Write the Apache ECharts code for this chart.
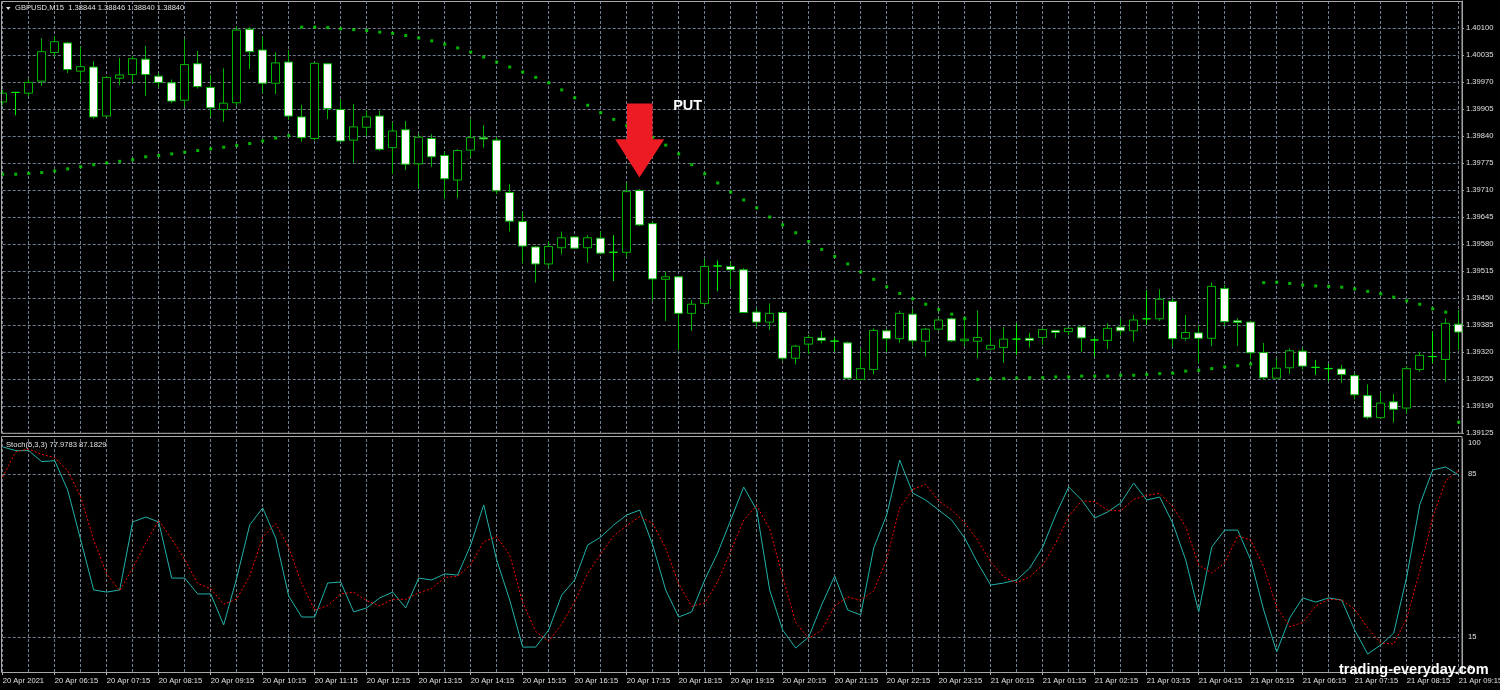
<!DOCTYPE html>
<html><head><meta charset="utf-8">
<script src="https://cdn.jsdelivr.net/npm/echarts@6/dist/echarts.min.js"></script>
<style>html,body{margin:0;padding:0;background:#000;}#c{width:1500px;height:690px;}</style>
</head><body><div id="c"></div>
<script>
const categories = [
'20 Apr 05:15','20 Apr 05:30','20 Apr 05:45',
'20 Apr 06:00','20 Apr 06:15','20 Apr 06:30','20 Apr 06:45','20 Apr 07:00','20 Apr 07:15','20 Apr 07:30','20 Apr 07:45',
'20 Apr 08:00','20 Apr 08:15','20 Apr 08:30','20 Apr 08:45','20 Apr 09:00','20 Apr 09:15','20 Apr 09:30','20 Apr 09:45',
'20 Apr 10:00','20 Apr 10:15','20 Apr 10:30','20 Apr 10:45','20 Apr 11:00','20 Apr 11:15','20 Apr 11:30','20 Apr 11:45',
'20 Apr 12:00','20 Apr 12:15','20 Apr 12:30','20 Apr 12:45','20 Apr 13:00','20 Apr 13:15','20 Apr 13:30','20 Apr 13:45',
'20 Apr 14:00','20 Apr 14:15','20 Apr 14:30','20 Apr 14:45','20 Apr 15:00','20 Apr 15:15','20 Apr 15:30','20 Apr 15:45',
'20 Apr 16:00','20 Apr 16:15','20 Apr 16:30','20 Apr 16:45','20 Apr 17:00','20 Apr 17:15','20 Apr 17:30','20 Apr 17:45',
'20 Apr 18:00','20 Apr 18:15','20 Apr 18:30','20 Apr 18:45','20 Apr 19:00','20 Apr 19:15','20 Apr 19:30','20 Apr 19:45',
'20 Apr 20:00','20 Apr 20:15','20 Apr 20:30','20 Apr 20:45','20 Apr 21:00','20 Apr 21:15','20 Apr 21:30','20 Apr 21:45',
'20 Apr 22:00','20 Apr 22:15','20 Apr 22:30','20 Apr 22:45','20 Apr 23:00','20 Apr 23:15','20 Apr 23:30','20 Apr 23:45',
'21 Apr 00:00','21 Apr 00:15','21 Apr 00:30','21 Apr 00:45','21 Apr 01:00','21 Apr 01:15','21 Apr 01:30','21 Apr 01:45',
'21 Apr 02:00','21 Apr 02:15','21 Apr 02:30','21 Apr 02:45','21 Apr 03:00','21 Apr 03:15','21 Apr 03:30','21 Apr 03:45',
'21 Apr 04:00','21 Apr 04:15','21 Apr 04:30','21 Apr 04:45','21 Apr 05:00','21 Apr 05:15','21 Apr 05:30','21 Apr 05:45',
'21 Apr 06:00','21 Apr 06:15','21 Apr 06:30','21 Apr 06:45','21 Apr 07:00','21 Apr 07:15','21 Apr 07:30','21 Apr 07:45',
'21 Apr 08:00','21 Apr 08:15','21 Apr 08:30','21 Apr 08:45','21 Apr 09:00','21 Apr 09:15'];

const tickLabels = ['20 Apr 2021','20 Apr 06:15','20 Apr 07:15','20 Apr 08:15','20 Apr 09:15','20 Apr 10:15','20 Apr 11:15',
'20 Apr 12:15','20 Apr 13:15','20 Apr 14:15','20 Apr 15:15','20 Apr 16:15','20 Apr 17:15','20 Apr 18:15','20 Apr 19:15',
'20 Apr 20:15','20 Apr 21:15','20 Apr 22:15','20 Apr 23:15','21 Apr 00:15','21 Apr 01:15','21 Apr 02:15','21 Apr 03:15',
'21 Apr 04:15','21 Apr 05:15','21 Apr 06:15','21 Apr 07:15','21 Apr 08:15','21 Apr 09:15'];

const opens = [1.39922,1.39945,1.39943,1.39972,1.40041,1.40064,1.39996,1.40006,1.39888,1.39979,
1.39988,1.40025,1.39984,1.39968,1.39926,1.40014,1.39957,1.39904,1.39920,1.40097,
1.40047,1.39967,1.40018,1.39886,1.39834,1.40014,1.39904,1.39830,1.39861,1.39888,
1.39812,1.39855,1.39773,1.39834,1.39793,1.39734,1.39806,1.39836,1.39830,1.39704,
1.39634,1.39573,1.39532,1.39571,1.39597,1.39571,1.39594,1.39560,1.39560,1.39709,
1.39629,1.39495,1.39501,1.39413,1.39437,1.39527,1.39526,1.39518,1.39416,1.39392,
1.39415,1.39305,1.39339,1.39354,1.39346,1.39342,1.39254,1.39278,1.39371,1.39352,
1.39411,1.39346,1.39375,1.39400,1.39347,1.39346,1.39327,1.39331,1.39351,1.39353,
1.39355,1.39372,1.39369,1.39380,1.39349,1.39348,1.39380,1.39371,1.39400,1.39400,
1.39442,1.39353,1.39366,1.39353,1.39473,1.39395,1.39392,1.39319,1.39257,1.39282,
1.39322,1.39283,1.39280,1.39279,1.39263,1.39215,1.39162,1.39200,1.39185,1.39278,
1.39309,1.39302,1.39387];
const closes = [1.39943,1.39945,1.39969,1.40043,1.40067,1.40000,1.40007,1.39886,1.39981,1.39987,
1.40026,1.39988,1.39969,1.39924,1.40012,1.39959,1.39908,1.39919,1.40095,1.40043,
1.39967,1.40016,1.39888,1.39836,1.40015,1.39906,1.39828,1.39862,1.39886,1.39808,
1.39852,1.39772,1.39837,1.39790,1.39737,1.39805,1.39836,1.39833,1.39708,1.39635,
1.39575,1.39532,1.39574,1.39595,1.39570,1.39595,1.39558,1.39560,1.39706,1.39626,
1.39496,1.39501,1.39413,1.39435,1.39526,1.39527,1.39518,1.39415,1.39392,1.39413,
1.39305,1.39334,1.39355,1.39348,1.39346,1.39257,1.39280,1.39372,1.39352,1.39413,
1.39347,1.39375,1.39397,1.39347,1.39351,1.39355,1.39336,1.39351,1.39351,1.39348,
1.39374,1.39367,1.39377,1.39354,1.39349,1.39377,1.39371,1.39397,1.39400,1.39447,
1.39352,1.39367,1.39353,1.39478,1.39393,1.39391,1.39318,1.39258,1.39281,1.39323,
1.39286,1.39283,1.39280,1.39266,1.39217,1.39163,1.39197,1.39182,1.39280,1.39312,
1.39309,1.39389,1.39368];
const lows = [1.39915,1.39890,1.39936,1.39961,1.40031,1.39992,1.39970,1.39881,1.39886,1.39962,
1.39967,1.39936,1.39957,1.39919,1.39910,1.39954,1.39886,1.39874,1.39912,1.40001,
1.39944,1.39941,1.39879,1.39826,1.39830,1.39881,1.39825,1.39776,1.39840,1.39804,
1.39748,1.39758,1.39714,1.39766,1.39688,1.39690,1.39789,1.39812,1.39700,1.39610,
1.39534,1.39487,1.39524,1.39555,1.39568,1.39535,1.39555,1.39491,1.39548,1.39623,
1.39443,1.39395,1.39325,1.39371,1.39431,1.39467,1.39477,1.39414,1.39381,1.39373,
1.39299,1.39290,1.39315,1.39341,1.39322,1.39255,1.39253,1.39266,1.39321,1.39342,
1.39336,1.39309,1.39371,1.39344,1.39334,1.39305,1.39325,1.39294,1.39313,1.39331,
1.39337,1.39353,1.39361,1.39321,1.39309,1.39327,1.39360,1.39345,1.39385,1.39395,
1.39333,1.39347,1.39293,1.39334,1.39383,1.39334,1.39302,1.39253,1.39256,1.39267,
1.39278,1.39265,1.39251,1.39246,1.39206,1.39158,1.39160,1.39150,1.39172,1.39273,
1.39293,1.39248,1.39325];
const highs = [1.39951,1.39946,1.39977,1.40075,1.40080,1.40067,1.40055,1.40020,1.39984,1.40028,
1.40032,1.40057,1.39991,1.39976,1.40073,1.40045,1.39987,1.40003,1.40103,1.40102,
1.40079,1.40041,1.40047,1.39915,1.40016,1.40016,1.39928,1.39917,1.39902,1.39901,
1.39873,1.39876,1.39845,1.39844,1.39802,1.39808,1.39880,1.39866,1.39837,1.39724,
1.39656,1.39575,1.39586,1.39610,1.39599,1.39601,1.39610,1.39601,1.39728,1.39712,
1.39635,1.39513,1.39503,1.39445,1.39544,1.39540,1.39537,1.39522,1.39425,1.39437,
1.39416,1.39337,1.39361,1.39371,1.39354,1.39345,1.39329,1.39377,1.39375,1.39419,
1.39423,1.39378,1.39401,1.39403,1.39403,1.39420,1.39375,1.39380,1.39389,1.39366,
1.39376,1.39373,1.39378,1.39380,1.39354,1.39389,1.39399,1.39409,1.39469,1.39471,
1.39449,1.39409,1.39383,1.39487,1.39481,1.39401,1.39395,1.39342,1.39305,1.39329,
1.39330,1.39301,1.39291,1.39289,1.39269,1.39242,1.39221,1.39219,1.39285,1.39321,
1.39369,1.39401,1.39421];
const sarValues = [1.39748,1.39748,1.39750,1.39752,1.39756,1.39761,1.39766,1.39771,1.39775,1.39779,
1.39783,1.39790,1.39793,1.39797,1.39801,1.39805,1.39809,1.39813,1.39817,1.39822,
1.39828,1.39835,1.39841,1.40102,1.40102,1.40101,1.40098,1.40096,1.40094,1.40090,
1.40087,1.40082,1.40076,1.40069,1.40061,1.40052,1.40042,1.40030,1.40018,1.40006,
1.39994,1.39981,1.39968,1.39951,1.39932,1.39914,1.39896,1.39880,1.39865,1.39851,
1.39837,1.39818,1.39797,1.39771,1.39749,1.39727,1.39705,1.39686,1.39667,1.39645,
1.39626,1.39607,1.39586,1.39567,1.39550,1.39532,1.39513,1.39495,1.39477,1.39461,
1.39448,1.39435,1.39422,1.39411,1.39401,1.39254,1.39256,1.39256,1.39257,1.39258,
1.39258,1.39260,1.39260,1.39262,1.39262,1.39262,1.39264,1.39264,1.39266,1.39268,
1.39269,1.39274,1.39276,1.39280,1.39284,1.39287,1.39291,1.39487,1.39488,1.39485,
1.39481,1.39479,1.39478,1.39476,1.39472,1.39466,1.39460,1.39452,1.39443,1.39435,
1.39424,1.39416,1.39151];
const stochMain = [96.6,95.0,95.0,90.3,90.7,78.1,56.7,35.2,34.3,35.2,
64.4,66.5,64.4,40.3,40.3,33.5,33.5,20.2,40.3,63.1,
70.4,57.5,32.6,23.6,23.6,38.2,38.6,25.8,27.5,31.8,
34.3,27.5,40.3,39.5,42.1,41.6,54.5,71.7,48.1,30.9,
10.7,10.7,18.0,33.0,39.5,54.5,57.9,63.1,67.4,69.5,
54.5,35.2,23.6,25.8,39.5,51.1,65.2,79.4,69.5,35.2,
18.0,10.3,15.0,28.8,41.2,26.6,24.5,53.2,67.4,91.0,
76.8,73.8,69.5,65.2,57.5,46.8,37.3,38.2,39.5,44.6,
53.6,67.4,79.4,73.8,66.1,68.7,72.5,81.1,73.8,75.1,
63.9,48.1,25.8,53.6,60.9,60.9,48.1,26.6,8.6,23.2,
31.8,30.0,31.8,30.9,18.0,7.7,11.6,16.7,40.8,71.7,
86.7,88.0,84.5];
const stochSignal = [83.7,94.5,95.7,93.4,92.0,86.4,75.2,56.7,42.1,34.9,
44.6,55.4,65.1,57.1,48.3,38.0,35.8,29.1,31.3,41.2,
57.9,63.7,53.5,37.9,26.6,28.5,33.5,34.2,30.6,28.4,
31.2,31.2,34.0,35.8,40.6,41.1,46.1,55.9,58.1,50.2,
29.9,17.4,13.1,20.6,30.2,42.3,50.6,58.5,62.8,66.7,
63.8,53.1,37.8,28.2,29.6,38.8,51.9,65.2,71.4,61.4,
40.9,21.2,14.4,18.0,28.3,32.2,30.8,34.8,48.4,70.5,
78.4,80.5,73.4,69.5,64.1,56.5,47.2,40.8,38.3,40.8,
45.9,55.2,66.8,73.5,73.1,69.5,69.1,74.1,75.8,76.7,
70.9,62.4,45.9,42.5,46.8,58.5,56.6,45.2,27.8,19.5,
21.2,28.3,31.2,30.9,26.9,18.9,12.4,12.0,23.0,43.1,
66.4,82.1,86.4];

const priceMin = 1.39125, priceMax = 1.40165, priceStep = 0.00065;
const stochLevels = [15, 85];
const stochAxisLabels = [0, 15, 85, 100];
const headerText = 'GBPUSD,M15  1.38844 1.38846 1.38840 1.38840';
const stochText = 'Stoch(5,3,3) 77.9783 87.1829';
const signalIndex = 49, signalPrice = 1.39740;

const candleData = opens.map((o, i) => [o, closes[i], lows[i], highs[i]]);

const FONT = 'Liberation Sans';
const TXT = '#e0e0e0';
const GRID = '#6f7f8f';
const arrowPath = 'path://M11.7 0 L37.3 0 L37.3 35.7 L49 35.7 L24.3 74 L0 35.7 L11.7 35.7 Z';

const chart = echarts.init(document.getElementById('c'), null, {renderer: 'canvas'});
chart.setOption({
  backgroundColor: '#000000',
  animation: false,
  grid: [
    {left: 2.7, top: 1, width: 1456, height: 432, outerBoundsMode: 'none'},
    {left: 2.7, top: 439, width: 1456, height: 233, outerBoundsMode: 'none'}
  ],
  xAxis: [
    {type: 'category', gridIndex: 0, data: categories, boundaryGap: false,
     axisLine: {show: false}, axisTick: {show: false}, axisLabel: {show: false},
     splitLine: {show: true, interval: 1, lineStyle: {color: GRID, type: [3, 2], width: 1}}},
    {type: 'category', gridIndex: 1, data: categories, boundaryGap: false,
     axisLine: {show: true, lineStyle: {color: '#b0b0b0', width: 1}},
     axisTick: {show: true, interval: 3, length: 3, lineStyle: {color: '#b0b0b0'}},
     axisLabel: {show: true, interval: 3, align: 'left', margin: 5, color: TXT, fontFamily: FONT, fontSize: 7.6,
       showMaxLabel: true, formatter: (v, i) => (i % 4 === 0 ? tickLabels[i / 4] : '')},
     splitLine: {show: true, interval: 1, lineStyle: {color: GRID, type: [3, 2], width: 1}}}
  ],
  yAxis: [
    {type: 'value', gridIndex: 0, position: 'right', offset: 3.3, min: priceMin, max: priceMax, interval: priceStep,
     axisLine: {show: true, lineStyle: {color: '#a0a0a0'}},
     axisTick: {show: true, length: 2, lineStyle: {color: '#a0a0a0'}},
     axisLabel: {color: TXT, fontFamily: FONT, fontSize: 7.6, margin: 4, showMaxLabel: false,
       formatter: v => (v > priceMax - priceStep / 2 ? '' : v.toFixed(5))},
     splitLine: {show: true, lineStyle: {color: GRID, type: [3, 2], width: 1}}},
    {type: 'value', gridIndex: 1, position: 'right', offset: 3.3, min: 0, max: 100, interval: 5,
     axisLine: {show: true, lineStyle: {color: '#a0a0a0'}},
     axisTick: {show: false},
     axisLabel: {color: TXT, fontFamily: FONT, fontSize: 7.6, margin: 6,
       verticalAlignMaxLabel: 'top', verticalAlignMinLabel: 'bottom',
       formatter: v => (stochAxisLabels.indexOf(Math.round(v)) >= 0 ? String(Math.round(v)) : '')},
     splitLine: {show: false}}
  ],
  series: [
    {type: 'candlestick', xAxisIndex: 0, yAxisIndex: 0, data: candleData, barWidth: 9, clip: false,
     itemStyle: {color: '#000000', color0: '#ffffff', borderColor: '#00b400', borderColor0: '#00b400',
       borderColorDoji: '#00ee00', borderWidth: 1}},
    {type: 'scatter', xAxisIndex: 0, yAxisIndex: 0, data: sarValues, symbol: 'rect', symbolSize: 3,
     itemStyle: {color: '#00e000'}, z: 3,
     markPoint: {
       silent: true,
       data: [
         {coord: [signalIndex, signalPrice], symbol: arrowPath, symbolSize: [49, 74], symbolOffset: [0, -37],
          itemStyle: {color: '#ed1c24'}, label: {show: false}},
         {coord: [signalIndex, signalPrice], symbol: 'circle', symbolSize: 1, itemStyle: {color: 'rgba(0,0,0,0)'},
          label: {show: true, formatter: 'PUT', color: '#ffffff', fontFamily: FONT, fontWeight: 'bold', fontSize: 14.5,
            offset: [48, -72]}}
       ]
     }},
    {type: 'line', xAxisIndex: 1, yAxisIndex: 1, data: stochMain, showSymbol: false, symbol: 'none',
     lineStyle: {color: '#20b2aa', width: 1},
     markLine: {silent: true, symbol: 'none', label: {show: false},
       lineStyle: {color: GRID, type: [3, 2], width: 1},
       data: stochLevels.map(v => ({yAxis: v}))}},
    {type: 'line', xAxisIndex: 1, yAxisIndex: 1, data: stochSignal, showSymbol: false, symbol: 'none',
     lineStyle: {color: '#ff0000', width: 1, type: [2, 2]}}
  ],
  graphic: [
    {type: 'rect', shape: {x: 1.5, y: 1.5, width: 1460.5, height: 431.8}, style: {fill: 'none', stroke: '#a8a8a8', lineWidth: 1}, silent: true, z: 10},
    {type: 'rect', shape: {x: 1.5, y: 436.5, width: 1460.5, height: 236}, style: {fill: 'none', stroke: '#a8a8a8', lineWidth: 1}, silent: true, z: 10},
    {type: 'polygon', shape: {points: [[6, 7], [10.5, 7], [8.25, 10]]}, style: {fill: '#e0e0e0'}, silent: true, z: 10},
    {type: 'text', x: 15, y: 8, style: {text: headerText, fill: TXT, font: '7.6px "Liberation Sans"', textVerticalAlign: 'middle'}, silent: true, z: 10},
    {type: 'text', x: 6, y: 444.5, style: {text: stochText, fill: TXT, font: '7.6px "Liberation Sans"', textVerticalAlign: 'middle'}, silent: true, z: 10},
    {type: 'text', x: 1339, y: 677, style: {text: 'trading-everyday.com', fill: '#ffffff', font: 'bold 14.5px "Liberation Sans"', textVerticalAlign: 'bottom'}, silent: true, z: 20}
  ]
});
</script></body></html>
